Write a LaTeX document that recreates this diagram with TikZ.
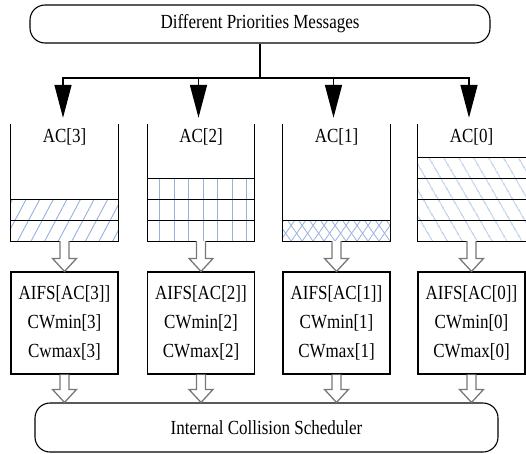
\documentclass[tikz,border=0pt]{standalone}
\usepackage{fontspec}
\setmainfont{Liberation Serif}[FakeStretch=0.85]
\usetikzlibrary{arrows.meta,patterns.meta,calc}
\definecolor{hatch}{RGB}{150,177,222}
\definecolor{arrgray}{RGB}{120,120,120}
\newcommand\holarrow[2]{\draw[hollow] ($(#1)+(-4.5,0)$) -- ($(#2)+(-4.5,-13)$) -- ($(#2)+(-12,-13)$) -- (#2) -- ($(#2)+(12,-13)$) -- ($(#2)+(4.5,-13)$) -- ($(#1)+(4.5,0)$);}
\begin{document}
\begin{tikzpicture}[x=1pt,y=-1pt,
  stadium/.style={draw, line width=1.1pt, rounded corners=15pt, font=\fontsize{20}{22}\selectfont, inner sep=0pt},
  qbox/.style={minimum width=107pt, minimum height=117pt, inner sep=0pt},
  pbox/.style={draw, line width=1.1pt, minimum width=107pt, minimum height=102pt, inner sep=0pt, align=center, font=\fontsize{20}{29}\selectfont},
  qlabel/.style={font=\fontsize{20}{22}\selectfont},
  toparrow/.style={line width=1.6pt, -{Triangle[length=33pt,width=17pt]}, shorten >=6pt},
  hollow/.style={draw=arrgray, fill=white, line width=1.3pt, line join=miter},
  slotline/.style={line width=1.1pt},
  hA/.style={pattern={Lines[angle=62,distance=12pt,line width=0.9pt]}, pattern color=hatch},
  hB/.style={pattern={Lines[angle=90,distance=14.5pt,line width=0.9pt]}, pattern color=hatch},
  hC1/.style={pattern={Lines[angle=55,distance=9pt,line width=0.8pt]}, pattern color=hatch},
  hC2/.style={pattern={Lines[angle=-55,distance=9pt,line width=0.8pt]}, pattern color=hatch},
  hD/.style={pattern={Lines[angle=-60,distance=13pt,line width=0.9pt]}, pattern color=hatch},
]
\useasboundingbox (0,0) rectangle (526,453);

% top message source
\node[stadium, minimum width=460pt, minimum height=38pt] (top) at (260,24) {Different Priorities Messages};
\coordinate (j) at (260,78);

% queues
\node[qbox] (c3) at (64.5,182.5) {};
\node[qbox] (c2) at (201,182.5) {};
\node[qbox] (c1) at (336.5,182.5) {};
\node[qbox, minimum width=110pt] (c0) at (473,182.5) {};

% hatched slots
\fill[hA] ($(c3.south west)+(0,-42)$) rectangle (c3.south east);
\fill[hB] ($(c2.south west)+(0,-63)$) rectangle (c2.south east);
\fill[hC1] ($(c1.south west)+(0,-21)$) rectangle (c1.south east);
\fill[hC2] ($(c1.south west)+(0,-21)$) rectangle (c1.south east);
\fill[hD] ($(c0.south west)+(0,-84)$) rectangle (c0.south east);

\foreach \k in {1,2} \draw[slotline] ($(c3.south west)+(0,-21*\k)$) -- ($(c3.south east)+(0,-21*\k)$);
\foreach \k in {1,2,3} \draw[slotline] ($(c2.south west)+(0,-21*\k)$) -- ($(c2.south east)+(0,-21*\k)$);
\draw[slotline] ($(c1.south west)+(0,-21)$) -- ($(c1.south east)+(0,-21)$);
\foreach \k in {1,2,3,4} \draw[slotline] ($(c0.south west)+(0,-21*\k)$) -- ($(c0.south east)+(0,-21*\k)$);

\foreach \c in {c3,c2,c1,c0}
  \draw[slotline] (\c.north west) -- (\c.south west) -- (\c.south east) -- (\c.north east);

% queue labels
\node[qlabel] (l3) at ($(c3.north)+(0,13)$) {AC[3]};
\node[qlabel] (l2) at ($(c2.north)+(0,13)$) {AC[2]};
\node[qlabel] (l1) at ($(c1.north)+(0,13)$) {AC[1]};
\node[qlabel] (l0) at ($(c0.north)+(-1.5,13)$) {AC[0]};

% distribution arrows
\draw[line width=1.6pt] (top.south) -- (j);
\draw[toparrow] (j) -| ($(c3.north)+(-1.5,0)$);
\draw[toparrow] (j) -| ($(c2.north)+(-2.5,0)$);
\draw[toparrow] (j) -| ($(c1.north)+(-3,0)$);
\draw[toparrow] (j) -| ($(c0.north)+(-4,0)$);

% parameter boxes
\node[pbox] (p3) at (64.5,323) {AIFS[AC[3]]\\CWmin[3]\\Cwmax[3]};
\node[pbox] (p2) at (201,323) {AIFS[AC[2]]\\CWmin[2]\\CWmax[2]};
\node[pbox] (p1) at (336.5,323) {AIFS[AC[1]]\\CWmin[1]\\CWmax[1]};
\node[pbox] (p0) at (471.5,323) {AIFS[AC[0]]\\CWmin[0]\\CWmax[0]};

% scheduler
\node[stadium, minimum width=463pt, minimum height=49pt] (bot) at (266.5,427.5) {Internal Collision Scheduler};

% hollow arrows
\foreach \i in {3,2,1,0}{
  \coordinate (qs\i) at (p\i.north |- c\i.south);
  \coordinate (be\i) at (p\i.south |- bot.north);
  \holarrow{qs\i}{p\i.north}
  \holarrow{p\i.south}{be\i}
}
\end{tikzpicture}
\end{document}
